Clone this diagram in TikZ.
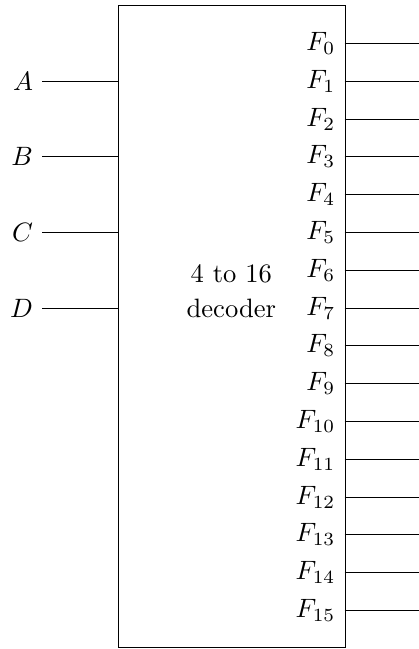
\documentclass[tikz,border=0pt]{standalone}
\begin{document}
\begin{tikzpicture}[
  wire/.style={draw, line width=0.4pt},
  blk/.style={draw, line width=0.4pt, minimum width=3cm, minimum height=8.5cm, anchor=south west, inner sep=0pt},
  inlabel/.style={anchor=east},
  outlabel/.style={anchor=east}
]
\useasboundingbox (-1.56,-0.01) rectangle (3.97,8.575);
\node[blk] (box) at (0,0) {};
\node[align=center] (title) at (1.5,4.72) {4 to 16\\[1.2pt]decoder};
% inputs
\foreach \n/\y in {A/7.5,B/6.5,C/5.5,D/4.5}{
  \coordinate (in\n) at (0,\y);
  \coordinate (ins\n) at (-1,\y);
  \draw[wire] (ins\n) -- (in\n);
  \node[inlabel] (l\n) at (ins\n) {$\n$};
}
% outputs
\foreach \i in {0,...,15}{
  \coordinate (out\i) at (3,8-0.5*\i);
  \coordinate (oute\i) at (4,8-0.5*\i);
  \draw[wire] (out\i) -- (oute\i);
  \node[outlabel] (F\i) at (out\i) {$F_{\i}$};
}
\end{tikzpicture}
\end{document}
